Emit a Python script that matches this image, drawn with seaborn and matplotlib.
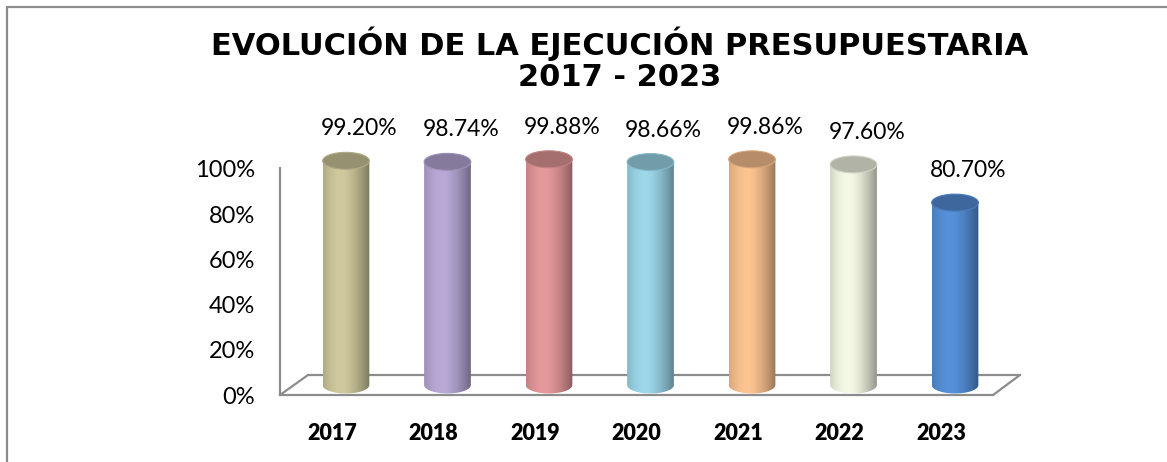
import numpy as np
import matplotlib
matplotlib.use("Agg")
import matplotlib.pyplot as plt
from matplotlib.path import Path
from matplotlib.patches import PathPatch, Ellipse
from matplotlib.colors import to_rgb
from matplotlib.lines import Line2D
import seaborn as sns

# ---- data -------------------------------------------------------------
years = ["2017", "2018", "2019", "2020", "2021", "2022", "2023"]
execution = [99.20, 98.74, 99.88, 98.66, 99.86, 97.60, 80.70]
bar_colors = ["#cfc99d", "#b9a9d7", "#e5999a", "#9dd8eb", "#fdc491",
              "#f5f9e6", "#5691da"]
y_ticks = [0, 20, 40, 60, 80, 100]
y_tick_labels = ["0%", "20%", "40%", "60%", "80%", "100%"]
title_lines = ["EVOLUCIÓN DE LA EJECUCIÓN PRESUPUESTARIA", "2017 - 2023"]

# ---- figure -----------------------------------------------------------
sns.set_style("white")
plt.rcParams["font.family"] = ["Lato", "DejaVu Sans"]
plt.rcParams["text.color"] = "black"
plt.rcParams["xtick.color"] = "black"
plt.rcParams["ytick.color"] = "black"

W, H = 1167, 462
fig = plt.figure(figsize=(W / 100, H / 100), dpi=100)
fig.patch.set_facecolor("white")


def px_box(left, top, right, bottom):
    return [left / W, 1 - bottom / H, (right - left) / W, (bottom - top) / H]


PX_PER_UNIT = 2.26
GRID = "#8c8c8c"

# front plane: value axis and floor
ax = fig.add_axes(px_box(280, 168, 993, 395))
ax.set_xlim(-0.512, 6.512)
ax.set_ylim(0, 227 / PX_PER_UNIT)
ax.set_facecolor("none")
for side in ["top", "right"]:
    ax.spines[side].set_visible(False)
for side in ["left", "bottom"]:
    ax.spines[side].set_color(GRID)
    ax.spines[side].set_linewidth(1.6)
ax.set_yticks(y_ticks)
ax.set_yticklabels(y_tick_labels, fontsize=17, color="black")
ax.set_xticks(range(len(years)))
ax.set_xticklabels(years, fontsize=15.5, fontweight="heavy", color="black")
ax.tick_params(axis="y", length=0, pad=18, labelcolor="black")
ax.tick_params(axis="x", length=0, pad=20, labelcolor="black")

# floor depth edges (in axes fraction)
dx, dy = 28 / 713, 20 / 227
rx = (1020 - 280) / 713
for xs, ys in [([0, dx], [0, dy]), ([dx, rx], [dy, dy]), ([1, rx], [0, dy])]:
    ax.add_line(Line2D(xs, ys, transform=ax.transAxes, color=GRID,
                       lw=1.6, clip_on=False))

# back plane: the cylinders sit half way into the floor depth
base_y = 385
bottom_lim, top_lim = -6, 104
axb = fig.add_axes(px_box(294, base_y - top_lim * PX_PER_UNIT, 1007,
                          base_y - bottom_lim * PX_PER_UNIT))
axb.set_facecolor("none")

sns.barplot(x=years, y=execution, hue=years, palette=bar_colors,
            legend=False, width=0.46, ax=axb)

cap_h = 7.5  # ellipse height of cylinder ends, in value units
t = np.linspace(0, 1, 128)
shade = np.where(t < 0.4,
                 1 - 0.15 * ((0.4 - t) / 0.4) ** 2,
                 1 - 0.40 * ((t - 0.4) / 0.6) ** 1.6)

for i, patch in enumerate(axb.patches[:len(years)]):
    x0, w, h = patch.get_x(), patch.get_width(), patch.get_height()
    xc = x0 + w / 2
    base = np.array(to_rgb(bar_colors[i]))
    patch.set_visible(False)

    # body outline: straight sides with a rounded bottom
    th = np.linspace(np.pi, 2 * np.pi, 60)
    verts = [(x0, h)] + [(xc + w / 2 * np.cos(a), cap_h / 2 * np.sin(a))
                         for a in th] + [(x0 + w, h), (x0, h)]
    body = PathPatch(Path(verts, closed=True), facecolor="none",
                     edgecolor="none", transform=axb.transData)
    axb.add_patch(body)

    grad = np.clip(base[None, :] * shade[:, None], 0, 1)[None, :, :]
    im = axb.imshow(grad, extent=[x0, x0 + w, -cap_h, h], aspect="auto",
                    interpolation="bilinear", zorder=2)
    im.set_clip_path(body)

    top = Ellipse((xc, h), w, cap_h, facecolor=np.clip(base * 0.72, 0, 1),
                  edgecolor=np.clip(base * 0.85, 0, 1), lw=0.8, zorder=3)
    axb.add_patch(top)

    axb.annotate(f"{execution[i]:.2f}%", (xc, h), xytext=(9.5, 23),
                 textcoords="offset points", ha="center", va="center",
                 fontsize=16.5, color="black", annotation_clip=False)

axb.set_xlim(-0.512, 6.512)
axb.set_ylim(bottom_lim, top_lim)
axb.set_axis_off()

# title
fig.text(620 / W, 1 - 44 / H, title_lines[0], ha="center", va="center",
         fontsize=22, fontweight="bold", family="DejaVu Sans", color="black")
fig.text(620 / W, 1 - 77 / H, title_lines[1], ha="center", va="center",
         fontsize=22, fontweight="bold", family="DejaVu Sans", color="black")

# chart frame (left and top edges)
fig.add_artist(Line2D([6.5 / W, 6.5 / W], [0, 1 - 7 / H],
                      transform=fig.transFigure, color=GRID, lw=1.6))
fig.add_artist(Line2D([6.5 / W, 1], [1 - 7 / H, 1 - 7 / H],
                      transform=fig.transFigure, color=GRID, lw=1.6))

fig.savefig("out.png", dpi=100)
